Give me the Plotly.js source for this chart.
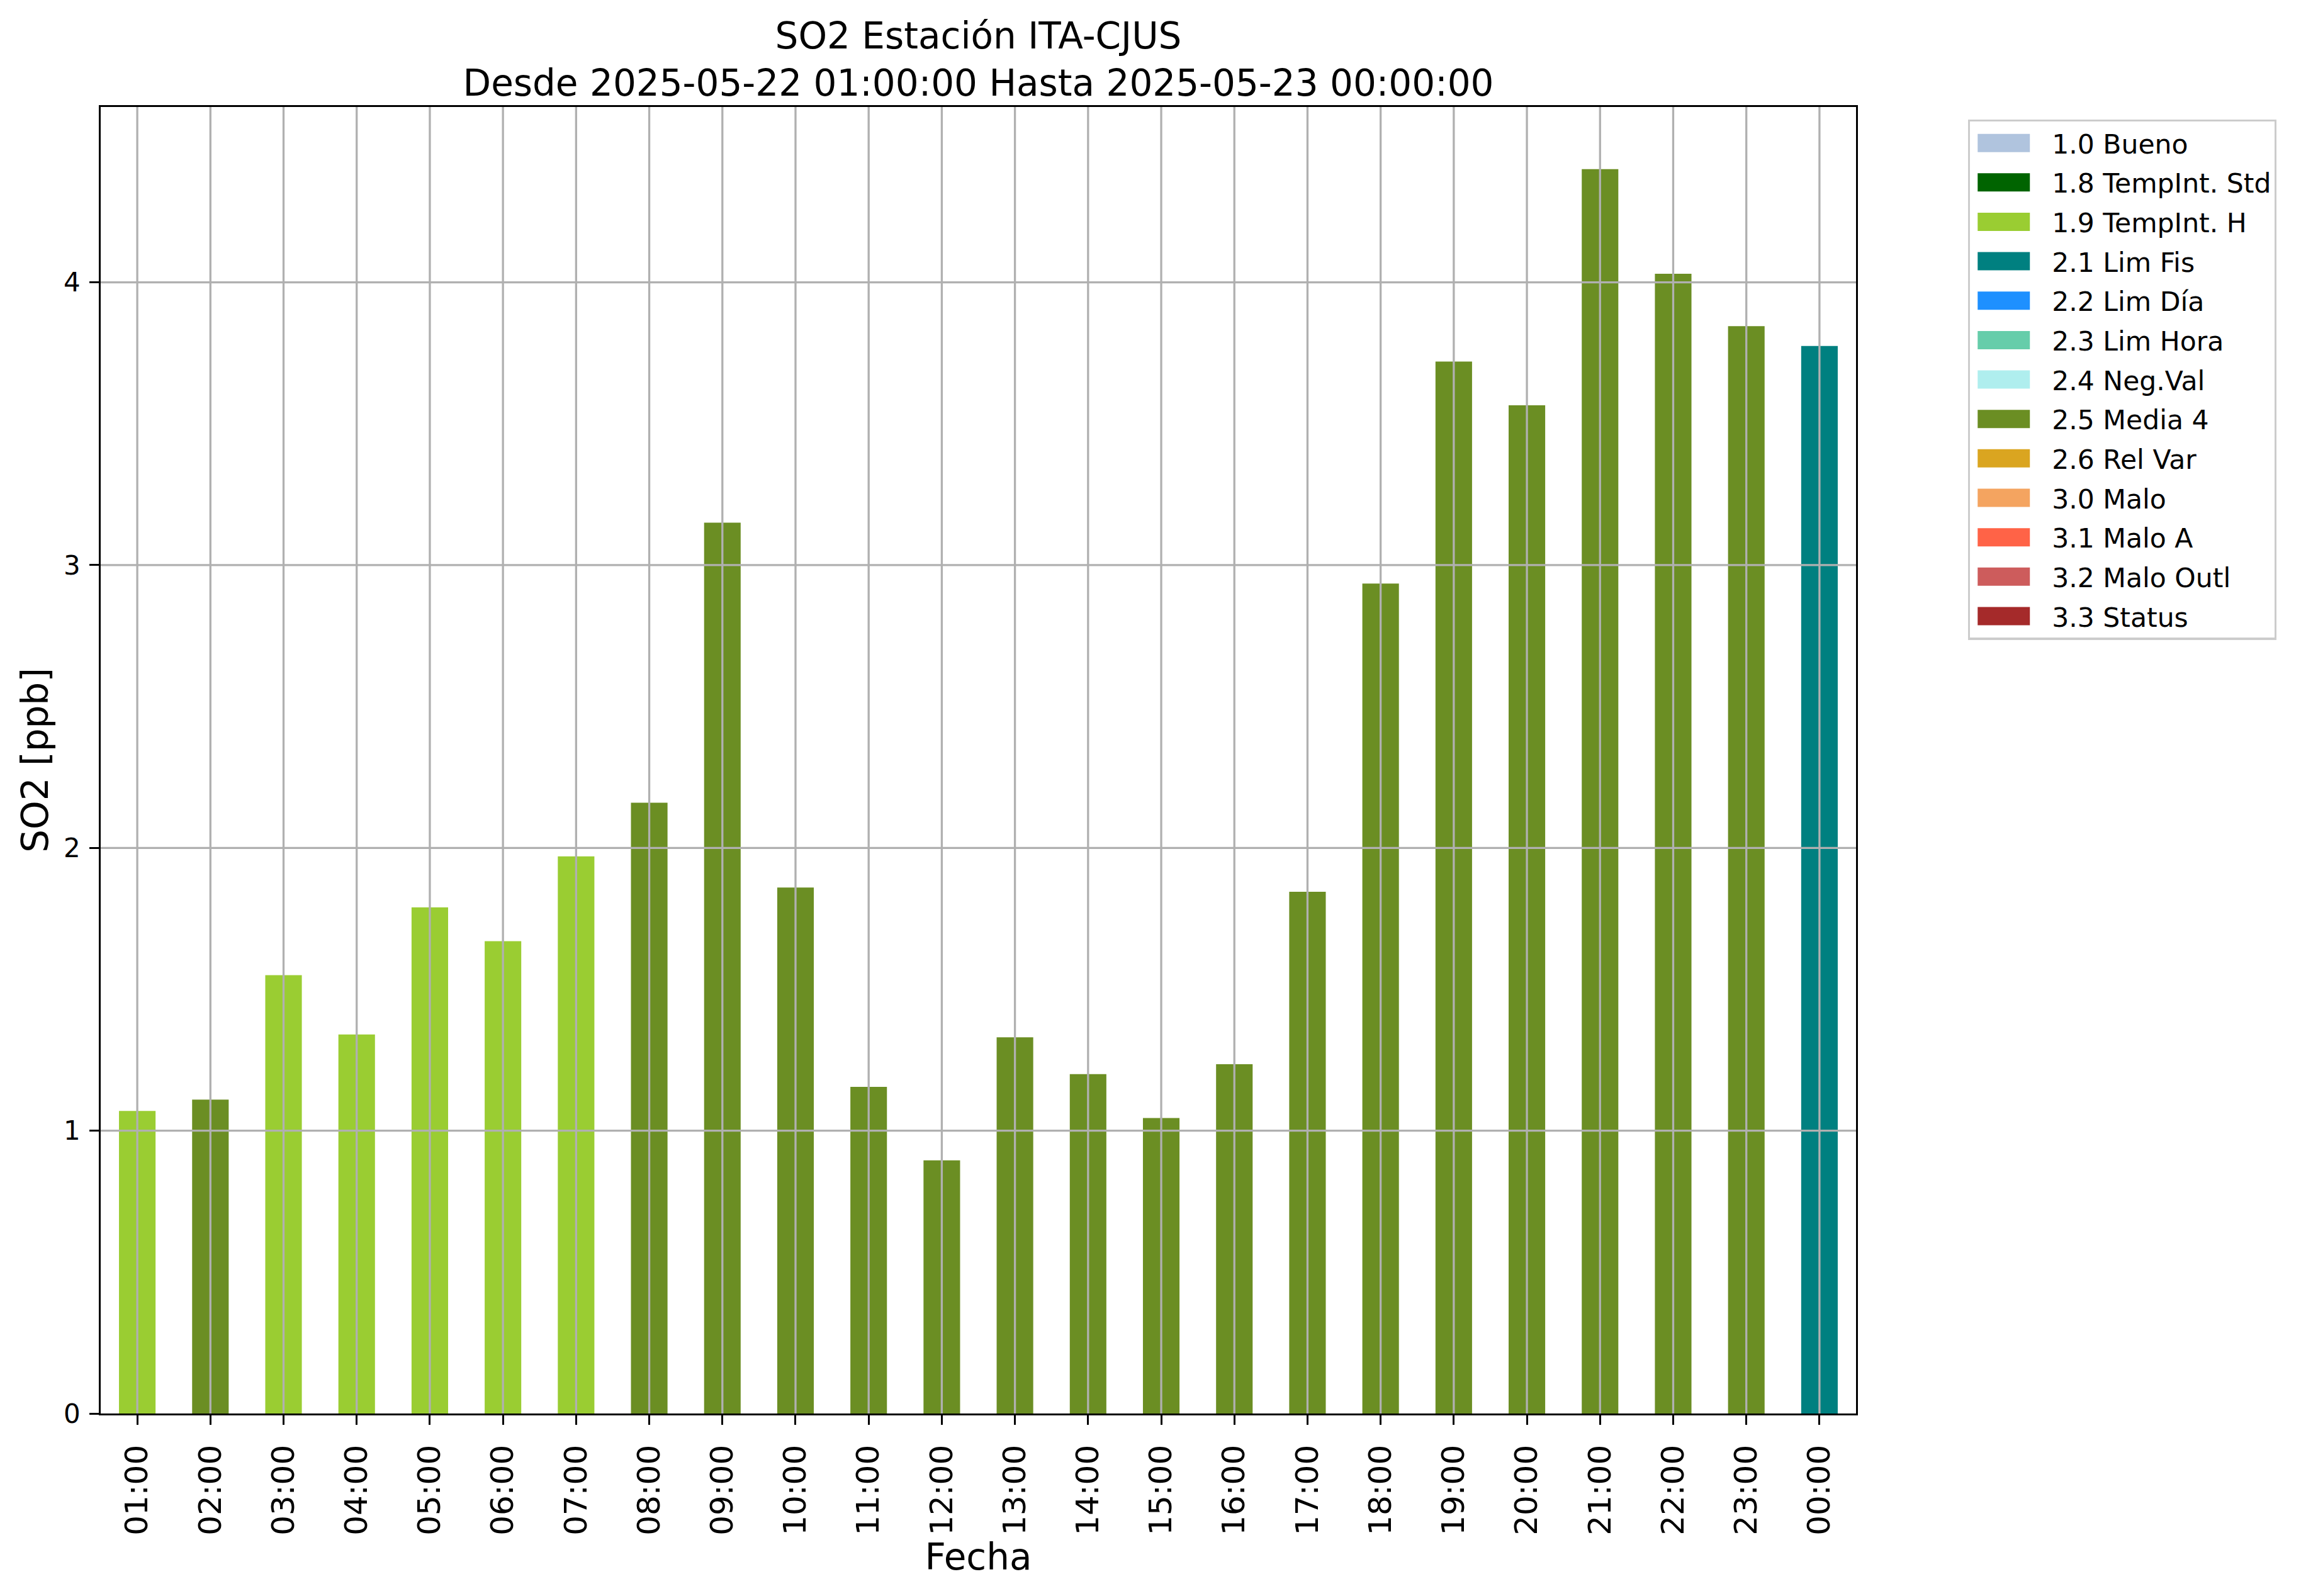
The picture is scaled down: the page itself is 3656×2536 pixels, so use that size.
<!DOCTYPE html>
<html>
<head>
<meta charset="utf-8">
<script src="https://cdn.plot.ly/plotly-3.0.1.min.js"></script>
<style>html,body{margin:0;padding:0;background:#fff;}#chart{width:3656px;height:2536px;}</style>
</head>
<body>
<div id="chart"></div>
<script>
// ---- data ----
const hours = ['01:00','02:00','03:00','04:00','05:00','06:00','07:00','08:00','09:00','10:00','11:00','12:00',
               '13:00','14:00','15:00','16:00','17:00','18:00','19:00','20:00','21:00','22:00','23:00','00:00'];
const so2Values = [1.07, 1.11, 1.55, 1.34, 1.79, 1.67, 1.97, 2.16, 3.15, 1.86, 1.155, 0.895,
                   1.33, 1.20, 1.045, 1.235, 1.845, 2.935, 3.72, 3.565, 4.40, 4.03, 3.845, 3.775];
const flagCodes = ['1.9','2.5','1.9','1.9','1.9','1.9','1.9','2.5','2.5','2.5','2.5','2.5',
                   '2.5','2.5','2.5','2.5','2.5','2.5','2.5','2.5','2.5','2.5','2.5','2.1'];
const legendCodes  = ['1.0','1.8','1.9','2.1','2.2','2.3','2.4','2.5','2.6','3.0','3.1','3.2','3.3'];
const legendLabels = ['Bueno','TempInt. Std','TempInt. H','Lim Fis','Lim Día','Lim Hora','Neg.Val','Media 4','Rel Var','Malo','Malo A','Malo Outl','Status'];
const legendColors = ['#B0C4DE','#006400','#9ACD32','#008080','#1E90FF','#66CDAA','#AFEEEE','#6B8E23','#DAA520','#F4A460','#FF6347','#CD5C5C','#A52A2A'];
const yTicks = [0, 1, 2, 3, 4];
const titleLine1 = 'SO2 Estación ITA-CJUS';
const titleLine2 = 'Desde 2025-05-22 01:00:00 Hasta 2025-05-23 00:00:00';

// ---- traces ----
const FONT = 'DejaVu Sans, Verdana, sans-serif';
const traces = legendCodes.map((code, k) => ({
  type: 'bar',
  name: code + ' ' + legendLabels[k],
  x: hours,
  y: so2Values.map((v, i) => flagCodes[i] === code ? v : null),
  width: 0.5,
  marker: {color: legendColors[k], line: {width: 0}},
  legendgroup: 'g' + k,
  showlegend: true,
  hoverinfo: 'x+y'
}));

// gridlines above bars (matplotlib style)
const GRID = '#b0b0b0', GW = 3.3;
const shapes = [];
hours.forEach((h, i) => shapes.push({type: 'line', xref: 'x', yref: 'paper', x0: i, x1: i, y0: 0, y1: 1,
  line: {color: GRID, width: GW}, layer: 'above'}));
yTicks.filter(t => t > 0).forEach(t => shapes.push({type: 'line', xref: 'paper', yref: 'y', x0: 0, x1: 1, y0: t, y1: t,
  line: {color: GRID, width: GW}, layer: 'above'}));

const layout = {
  width: 3656, height: 2536,
  paper_bgcolor: '#ffffff', plot_bgcolor: '#ffffff',
  font: {family: FONT, color: '#000000'},
  margin: {l: 160, r: 707, t: 170, b: 290, pad: 0},
  barmode: 'overlay',
  title: {text: titleLine1 + '<br>' + titleLine2, font: {family: FONT, size: 58, color: '#000'},
          x: 0.5, xref: 'paper', xanchor: 'center', y: 1, yref: 'paper', yanchor: 'bottom', pad: {b: 93}},
  xaxis: {
    type: 'category', categoryorder: 'array', categoryarray: hours,
    range: [-0.5, hours.length - 0.5],
    showgrid: false, zeroline: false,
    showline: true, mirror: true, linecolor: '#000', linewidth: 3.3,
    ticks: 'outside', ticklen: 14.6, tickwidth: 3.3, tickcolor: '#000',
    tickangle: -90, tickfont: {family: FONT, size: 50, color: '#000'},
    ticklabelstandoff: 12,
    title: {text: 'Fecha', font: {family: FONT, size: 58, color: '#000'}, standoff: 8}
  },
  yaxis: {
    range: [0, 4.62], tickvals: yTicks, ticktext: yTicks.map(String),
    showgrid: false, zeroline: false,
    showline: true, mirror: true, linecolor: '#000', linewidth: 3.3,
    ticks: 'outside', ticklen: 14.6, tickwidth: 3.3, tickcolor: '#000',
    tickfont: {family: FONT, size: 42, color: '#000'},
    ticklabelstandoff: 6,
    title: {text: 'SO2 [ppb]', font: {family: FONT, size: 58, color: '#000'}, standoff: 6}
  },
  legend: {
    x: 1.0638, xref: 'paper', xanchor: 'left', y: 0.9905, yanchor: 'top',
    bgcolor: '#ffffff', bordercolor: '#cccccc', borderwidth: 3.3,
    font: {family: FONT, size: 42.5, color: '#000'},
    itemwidth: 120, tracegroupgap: 4.4, traceorder: 'grouped',
    itemclick: false, itemdoubleclick: false
  },
  shapes: shapes,
  showlegend: true
};

Plotly.newPlot('chart', traces, layout, {displayModeBar: false, responsive: false}).then(() => {
  // enlarge legend swatches to matplotlib-like rectangles (83 x 29 px), 35 px before the label
  document.querySelectorAll('.legend .traces').forEach(item => {
    const path = item.querySelector('.legendpoints path');
    const text = item.querySelector('text.legendtext');
    if (!path || !text) return;
    const pr = path.getBoundingClientRect();
    const tr = text.getBoundingClientRect();
    const desiredCenter = tr.left - 35 - 41.5;
    const dx = desiredCenter - (pr.left + pr.width / 2);
    path.setAttribute('d', 'M' + (dx + 41.5) + ',14.5H' + (dx - 41.5) + 'V-14.5H' + (dx + 41.5) + 'Z');
  });
});
</script>
</body>
</html>
